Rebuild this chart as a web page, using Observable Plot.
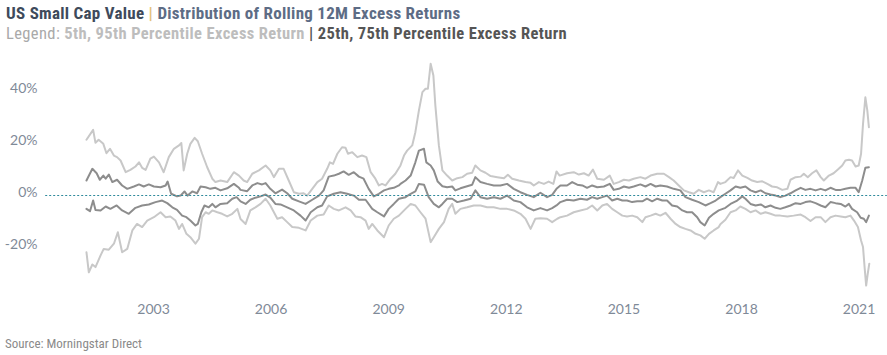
<!DOCTYPE html>
<html>
<head>
<meta charset="utf-8">
<script src="https://cdn.jsdelivr.net/npm/d3@7"></script>
<script src="https://cdn.jsdelivr.net/npm/@observablehq/plot@0.6"></script>
<style>
  html, body { margin: 0; padding: 0; background: #ffffff; }
  body { width: 887px; height: 355px; position: relative; overflow: hidden; }
  .hdr { position: absolute; left: 6px; white-space: nowrap; font-family: "Liberation Sans Narrow", "Arial Narrow", Roboto, sans-serif; font-stretch: condensed; }
  #t1 { top: 3px; font-size: 17px; font-weight: bold; line-height: 20px; letter-spacing: 0.28px; }
  #t2 { top: 24px; font-size: 16.5px; line-height: 20px; letter-spacing: 0.38px; }
  #chart { position: absolute; left: 0; top: 45px; }
  #src { position: absolute; left: 5px; top: 336px; font-family: "Liberation Sans Narrow", Roboto, sans-serif; font-stretch: condensed; font-size: 13px; color: #8a8a8a; }
</style>
</head>
<body>
<div class="hdr" id="t1"><span style="color:#3e4a5b">US Small Cap Value</span> <span style="color:#e3c27c">|</span> <span style="color:#5d6c85">Distribution of Rolling 12M Excess Returns</span></div>
<div class="hdr" id="t2"><span style="color:#a9a9a9">Legend:</span> <span style="color:#bdbdbd;font-weight:bold">5th, 95th Percentile Excess Return</span> <span style="color:#555;font-weight:bold">| 25th, 75th Percentile Excess Return</span></div>
<div id="chart"></div>
<div id="src">Source: Morningstar Direct</div>
<script>
// ---- Data (rolling 12M excess return percentiles, %) ----
const xTicks = [2003, 2006, 2009, 2012, 2015, 2018, 2021];
const yTicks = [-20, 0, 20, 40];

const p95Years = [
  2001.29,2001.46,2001.52,2001.60,2001.72,2001.80,2001.89,2001.99,2002.07,2002.16,
  2002.29,2002.41,2002.54,2002.63,2002.71,2002.80,2002.92,2003.01,2003.14,2003.26,
  2003.39,2003.52,2003.65,2003.71,2003.77,2003.86,2003.94,2004.05,2004.13,2004.24,
  2004.37,2004.50,2004.58,2004.71,2004.88,2005.05,2005.18,2005.30,
  2005.39,2005.52,2005.69,2005.86,2005.98,2006.07,2006.20,2006.32,2006.45,2006.58,
  2006.71,2006.83,2006.92,2007.05,2007.18,2007.30,2007.43,2007.50,2007.58,2007.69,
  2007.81,2007.90,2007.96,2008.07,2008.20,2008.32,2008.43,2008.54,2008.66,2008.75,
  2008.83,2008.92,2009.05,2009.17,
  2009.30,2009.39,2009.47,2009.60,2009.68,2009.77,2009.86,2009.94,2010.00,2010.07,
  2010.14,2010.19,2010.28,2010.37,2010.49,2010.62,2010.75,2010.88,2011.00,2011.13,
  2011.21,2011.34,2011.47,2011.60,2011.77,2011.94,2012.04,2012.15,2012.32,2012.49,
  2012.62,2012.70,2012.83,2012.96,2013.08,2013.20,2013.28,2013.36,
  2013.55,2013.72,2013.85,2013.98,2014.10,2014.21,2014.32,2014.49,2014.64,2014.74,
  2014.87,2015.00,2015.13,2015.25,2015.42,2015.55,2015.68,2015.85,2016.02,2016.15,
  2016.27,2016.40,2016.53,2016.66,2016.78,2016.91,2017.04,2017.17,2017.29,2017.40,
  2017.46,2017.59,2017.72,2017.80,2017.91,2018.02,2018.15,2018.27,2018.40,2018.53,
  2018.66,2018.78,2018.91,2019.04,2019.17,2019.25,2019.38,2019.51,2019.59,2019.69,
  2019.80,2019.91,2020.02,2020.10,2020.23,2020.35,2020.48,2020.57,2020.65,2020.74,
  2020.82,2020.91,2020.99,2021.05,2021.10,2021.16,2021.21,2021.25
];
const p95Values = [
  20.5,24.3,19.3,20.5,18.9,15.3,17,14.4,13.8,12.5,
  8,8.9,10.2,11.8,9.7,8.9,13.2,14,11.8,8,
  13.8,17,18.3,19.2,8.7,15.1,18.9,21.2,19.9,15.1,
  9.9,5.5,4.2,4.8,4.2,8,6.7,4.8,
  4.2,7.4,8.7,10.6,8.7,6.1,9.3,9.3,4.8,0.3,
  -0.3,-0.1,-1,1.6,4.2,5.5,9.3,11.8,11.2,15.1,
  17.6,17.4,15.1,15.7,13.8,14.4,13.8,8,5.5,2.9,
  3.5,2.9,5.5,7.4,
  10.6,14.4,16.3,18.3,23.4,31.7,38.8,40.1,40.1,49.7,
  45.2,33.7,18.3,8.7,6.7,4.8,5.7,6.1,7.4,7.8,
  10.6,8.7,7.8,6.5,6.1,5.7,7,5.5,4.8,4.2,
  3.9,2.9,4.2,3.5,4.4,3.5,8.3,6.7,
  7.6,8,7.1,7.6,6.7,9,5.5,5.1,6.7,3.5,
  4.2,5.1,4.8,5.5,6.1,5.5,6.7,7.4,7.4,6.1,
  4.8,2.9,1,0.3,-0.3,1.2,0.3,1,0.3,4.2,
  3.5,4.2,6.1,5.8,8.7,6.7,5.8,4.8,4.2,4.5,
  3.5,2.5,2.2,1.2,1.6,5.1,6.1,6.3,7.4,6.1,
  7.6,8.7,6.1,4.8,6.7,7.6,9.3,10.6,12.5,12.8,
  12.5,10.2,10.6,15.1,26.6,36.8,31.7,25.3
];

const p75Years = [
  2001.29,2001.44,2001.55,2001.63,2001.72,2001.78,2001.86,2001.95,2002.07,2002.20,
  2002.33,2002.50,2002.63,2002.75,2002.88,2003.01,2003.18,2003.31,2003.36,2003.45,
  2003.60,2003.69,2003.79,2003.87,2003.99,2004.11,2004.20,2004.33,2004.45,2004.58,
  2004.71,2004.88,2005.05,2005.18,
  2005.22,2005.39,2005.52,2005.65,2005.77,2005.86,2005.98,2006.11,2006.28,2006.41,
  2006.54,2006.71,2006.88,2007.05,2007.22,2007.34,2007.47,2007.60,2007.73,2007.85,
  2007.98,2008.11,2008.24,2008.36,2008.49,2008.62,2008.75,2008.88,2009.00,2009.13,
  2009.26,
  2009.30,2009.43,2009.56,2009.68,2009.77,2009.90,2009.96,2010.07,2010.15,2010.25,
  2010.37,2010.49,2010.62,2010.70,2010.83,2011.00,2011.13,2011.21,2011.34,2011.51,
  2011.68,2011.85,2012.02,2012.19,2012.36,2012.53,2012.70,2012.87,2013.04,2013.17,
  2013.28,
  2013.38,2013.55,2013.68,2013.81,2013.94,2014.06,2014.19,2014.32,2014.49,2014.64,
  2014.74,2014.87,2015.00,2015.13,2015.25,2015.42,2015.55,2015.68,2015.81,2015.93,
  2016.10,2016.27,2016.44,2016.57,2016.74,2016.91,2017.08,2017.21,2017.34,
  2017.46,2017.59,2017.72,2017.85,2017.97,2018.10,2018.23,2018.36,2018.49,2018.61,
  2018.74,2018.87,2018.99,2019.12,2019.25,2019.38,2019.51,2019.63,2019.76,2019.89,
  2020.02,2020.14,2020.27,2020.40,2020.53,2020.65,2020.78,2020.91,2020.99,2021.08,
  2021.16,2021.25
];
const p75Values = [
  4.8,9.3,7.6,5.1,6.7,5.5,7.1,4.2,5.1,2.9,
  1.6,2.5,3.3,2.5,3.3,2.5,2.2,2.9,4.4,-0.3,
  -1.3,-1,0.6,-1,0.6,-0.1,2.5,2.2,1.6,2.0,
  1,1.8,3.5,2.0,
  1.2,0.7,2.9,3.8,3.3,3.8,1.6,-0.1,1.3,-0.1,
  -2.2,-3.2,-4.2,-2.6,-1,1,6.3,6.7,7.4,8.3,
  7,8,6.3,5.5,1.6,-1.3,-0.3,1,1.6,2.0,
  2.9,
  3.5,4.8,6.7,11.8,16.3,17,11.8,10.6,8.7,4.4,
  2.6,2.2,2.5,1,1.8,2.6,3.2,6.1,4.2,3.5,
  2.9,2.9,3.5,1.6,0.3,-0.7,-1.6,0.1,-1.6,-0.7,
  1.6,
  2.9,2.9,4.2,3.2,2.9,2,2.9,2.2,2.5,3.5,
  1.2,1.6,2.5,2,2.5,3.3,2.5,3.5,2.5,2.9,
  2.5,1.6,1,-1.6,-2.6,-3.5,-4.8,-3.9,-2.9,
  -1.6,-0.3,1,2.5,2,2.5,1,0.3,1,-0.1,
  -0.6,-1,-1.6,-1,-0.1,1,2,1.2,1.6,1,
  1.6,1,2,1.2,1.2,1.6,2,2,0.3,4.8,
  9.7,9.9
];

const p25Years = [
  2001.29,2001.38,2001.46,2001.52,2001.65,2001.78,2001.90,2002.06,2002.20,2002.37,
  2002.54,2002.71,2002.88,2003.05,2003.22,2003.35,2003.48,2003.60,2003.73,2003.84,
  2003.94,2004.07,2004.13,2004.22,2004.30,2004.41,2004.50,2004.58,2004.71,2004.88,
  2005.01,2005.12,
  2005.22,2005.35,2005.47,2005.60,2005.73,2005.86,2005.98,2006.11,2006.24,2006.41,
  2006.58,2006.75,2006.88,2007.01,2007.18,2007.30,2007.43,2007.60,2007.77,2007.94,
  2008.11,2008.24,2008.41,2008.58,2008.71,2008.88,2009.00,2009.13,2009.26,
  2009.43,2009.56,2009.68,2009.77,2009.90,2010.02,2010.15,2010.28,2010.37,2010.49,
  2010.62,2010.75,2010.92,2011.09,2011.21,2011.34,2011.51,2011.68,2011.85,2012.02,
  2012.19,2012.36,2012.53,2012.70,2012.87,2013.04,2013.17,2013.28,
  2013.38,2013.55,2013.72,2013.89,2014.06,2014.19,2014.32,2014.45,2014.57,2014.70,
  2014.83,2014.96,2015.08,2015.21,2015.34,2015.47,2015.59,2015.72,2015.85,2015.98,
  2016.10,2016.23,2016.36,2016.49,2016.61,2016.74,2016.87,2016.95,2017.06,2017.17,
  2017.29,2017.42,
  2017.59,2017.72,2017.89,2018.02,2018.10,2018.23,2018.36,2018.49,2018.61,2018.74,
  2018.87,2018.99,2019.12,2019.25,2019.38,2019.51,2019.63,2019.76,2019.89,2020.02,
  2020.14,2020.27,2020.40,2020.53,2020.65,2020.74,2020.82,2020.95,2021.04,2021.12,
  2021.18,2021.25
];
const p25Values = [
  -6.1,-7,-2.9,-6.5,-6.7,-5.2,-6.1,-4.8,-6.7,-8,
  -5.7,-4.8,-4.4,-3.5,-2.9,-3.9,-5.5,-6.5,-8.7,-9.3,
  -10.6,-12.5,-11.9,-7.4,-4.8,-5.5,-4.2,-5.5,-4.2,-3.9,
  -2.2,-1.6,
  -3.2,-4.2,-2.6,-1.8,-1.3,-0.6,-1.8,-4.2,-4.4,-5.5,
  -6.7,-8.7,-10.6,-7.4,-5.5,-4.8,-1.3,-0.3,0.3,-0.3,
  -1,-2.6,-2.6,-6.1,-7.4,-9,-6.1,-4.2,-2.2,
  -1.6,-0.3,0.6,3.5,3.2,-1.6,-4.2,-5.5,-4.2,-2.2,
  -2.2,-3.5,-2.9,-2.2,1,-1.6,-2.2,-1.6,-2.2,-1,
  -2.9,-3.5,-5.5,-6.7,-5.8,-6.7,-5.8,-4.8,
  -3.5,-2.6,-2.9,-2.2,-2.6,-1.6,-2.2,-1.6,-1,-2.9,
  -2.2,-2.9,-2.9,-3.5,-3.2,-3.2,-2.2,-3.2,-2.2,-2.9,
  -2.9,-4.8,-5.2,-6.7,-7.4,-7.4,-9.3,-11.2,-12.5,-9.5,
  -8,-6.7,
  -5.7,-4.2,-2.9,-1.3,-2.2,-4.2,-4.8,-4.4,-5.5,-4.8,
  -5.7,-6.1,-5.5,-4.8,-3.9,-4.2,-3.5,-3.2,-3.9,-4.8,
  -5.5,-3.5,-3.9,-4.2,-5.2,-4.2,-6.1,-7.4,-9.5,-9.9,
  -11.2,-8.7
];

const p5Years = [
  2001.29,2001.35,2001.44,2001.52,2001.65,2001.73,2001.86,2001.99,2002.09,2002.20,
  2002.33,2002.46,2002.58,2002.71,2002.84,2003.01,2003.18,2003.31,2003.43,2003.56,
  2003.65,2003.73,2003.84,2003.94,2004.07,2004.16,2004.24,2004.33,2004.41,2004.50,
  2004.63,2004.75,2004.88,2005.01,2005.14,
  2005.22,2005.35,2005.47,2005.60,2005.73,2005.86,2005.98,2006.16,2006.28,2006.41,
  2006.54,2006.71,2006.88,2007.01,2007.18,2007.34,2007.47,2007.60,2007.73,2007.90,
  2008.03,2008.15,2008.28,2008.41,2008.49,2008.58,2008.71,2008.88,2009.00,2009.13,
  2009.26,
  2009.43,2009.56,2009.68,2009.81,2009.94,2010.07,2010.15,2010.28,2010.41,2010.53,
  2010.62,2010.70,2010.83,2011.00,2011.17,2011.34,2011.51,2011.68,2011.85,2012.02,
  2012.19,2012.36,2012.49,2012.62,2012.74,2012.87,2013.04,2013.17,2013.30,
  2013.38,2013.55,2013.72,2013.89,2014.06,2014.19,2014.32,2014.45,2014.57,2014.70,
  2014.83,2014.96,2015.08,2015.21,2015.34,2015.47,2015.55,2015.68,2015.81,2015.93,
  2016.06,2016.19,2016.32,2016.44,2016.57,2016.70,2016.83,2016.95,2017.06,2017.17,
  2017.29,2017.42,
  2017.46,2017.59,2017.72,2017.85,2017.97,2018.10,2018.23,2018.36,2018.49,2018.61,
  2018.74,2018.87,2018.99,2019.17,2019.33,2019.51,2019.63,2019.76,2019.89,2020.02,
  2020.14,2020.27,2020.40,2020.53,2020.65,2020.78,2020.87,2020.97,2021.05,2021.10,
  2021.14,2021.18,2021.22,2021.26
];
const p5Values = [
  -22.8,-30.5,-27.5,-28.5,-24,-21.5,-21.8,-19.5,-15.1,-22.8,
  -21.5,-14.4,-11.9,-13.1,-10.6,-9.3,-7.4,-9.3,-9,-10.6,
  -13.8,-11.9,-15.7,-17,-19.5,-17.6,-9.3,-7.4,-8,-6.7,
  -7.4,-8,-9,-8,-6.1,
  -10,-11.9,-6.7,-5.5,-4.2,-2.2,-4.8,-9.9,-9.3,-11.2,
  -13.1,-13.4,-14.4,-10.6,-8.7,-8.3,-4.8,-6.1,-6.7,-5.5,
  -6.7,-9,-9.3,-10.6,-13.8,-11.9,-14.4,-17,-12.5,-9.9,
  -8.7,
  -6.1,-4.2,-4.8,-7.4,-9.9,-18.9,-17,-13.8,-11.2,-6.1,
  -4.2,-8,-6.1,-5.5,-4.8,-4.8,-5.5,-5.5,-6.1,-6.1,
  -6.7,-8,-9.9,-13.8,-9.9,-9.7,-9.9,-11.2,-9.9,
  -9.3,-8.7,-7.4,-6.7,-6.1,-4.8,-6.7,-4.8,-4.2,-6.1,
  -7.4,-8.7,-9,-8.7,-9.3,-11.2,-9.3,-8.7,-8,-8.7,
  -7.6,-9.9,-11.9,-13.1,-13.8,-14.4,-15.7,-16.3,-17.6,-15.7,
  -14.4,-13.1,
  -12,-10.3,-7.4,-6.7,-5.2,-6.1,-7.4,-6.7,-8,-7.4,
  -8,-8.7,-8.7,-9,-8.7,-8.3,-9.3,-10.8,-9.3,-9.3,
  -11.2,-9.3,-8.7,-9,-9.3,-8.7,-10.6,-13.1,-18.3,-20.8,
  -28.5,-35.6,-31.1,-27.2
];

const seriesNames = ["5th", "95th", "25th", "75th"];
const seriesColors = ["#c8c8c8", "#c8c8c8", "#8d8d8d", "#8d8d8d"];

// ---- Build tidy rows ----
const seriesData = [
  [seriesNames[0], p5Years, p5Values],
  [seriesNames[1], p95Years, p95Values],
  [seriesNames[2], p25Years, p25Values],
  [seriesNames[3], p75Years, p75Values]
];
const rows = seriesData.flatMap(([name, ys, vs]) =>
  ys.map((yr, i) => ({series: name, year: yr, value: vs[i]})));
const outer = rows.filter(d => d.series === "5th" || d.series === "95th");
const inner = rows.filter(d => d.series === "25th" || d.series === "75th");

const chart = Plot.plot({
  width: 887,
  height: 280,
  marginTop: 4.5,
  marginBottom: 28.5,
  marginLeft: 74.6,
  marginRight: 8.8,
  style: {fontFamily: "Lato, sans-serif", fontSize: "14px", color: "#7f8a98", background: "transparent"},
  x: {type: "linear", domain: [2001, 2021.5]},
  y: {domain: [-40, 55]},
  color: {domain: seriesNames, range: seriesColors},
  marks: [
    Plot.axisX({ticks: xTicks, tickFormat: d3.format("d"), tickSize: 0, tickPadding: 7, label: null}),
    Plot.axisY({ticks: yTicks, tickFormat: d => d + "%", tickSize: 0, tickPadding: 37.6, label: null}),
    Plot.line(outer, {x: "year", y: "value", z: "series", stroke: "series", strokeWidth: 2, curve: "linear"}),
    Plot.line(inner, {x: "year", y: "value", z: "series", stroke: "series", strokeWidth: 2, curve: "linear"}),
    Plot.ruleY([0], {x1: 2000.25, x2: 2021.72, dy: 2.5, stroke: "#2f8a9c", strokeWidth: 1, strokeDasharray: "2,2"})
  ]
});
document.getElementById("chart").appendChild(chart);
</script>
</body>
</html>
